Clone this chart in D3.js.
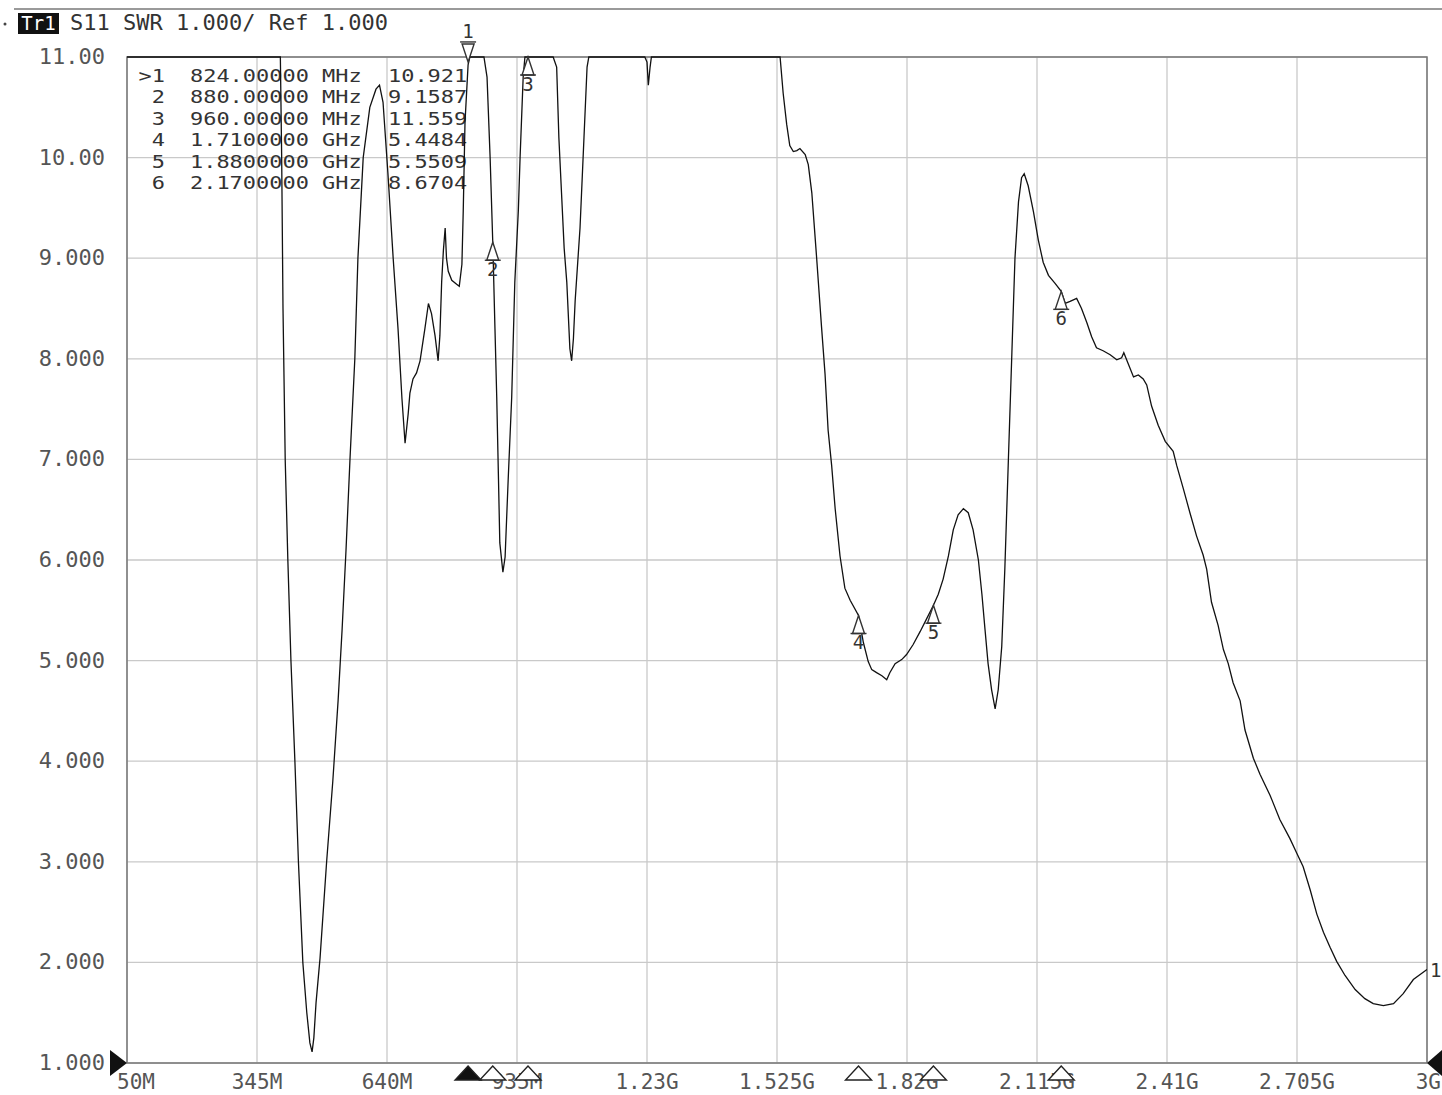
<!DOCTYPE html>
<html>
<head>
<meta charset="utf-8">
<script src="https://cdn.jsdelivr.net/npm/d3@7"></script>
<style>
    body { margin: 0; background: #fff; }
    svg text { font-family: "DejaVu Sans Mono", monospace; }
</style>
</head>
<body>
<div id="root"></div>
<script>
// trace S11 SWR, frequency in MHz
const freqMHz = [50, 375, 398, 401, 404, 409, 415, 422, 431, 439, 449, 458, 465, 470, 474, 479, 488, 503, 517, 529,
    538, 547, 556, 567, 574, 586, 601, 615, 623, 631, 642, 654, 665, 674, 681, 688, 692, 699, 707, 715,
    726, 734, 741, 749, 756, 760, 764, 768, 772, 775, 779, 787, 798, 804, 810, 813, 817, 824, 828, 860,
    867, 874, 880, 885, 889, 893, 896, 903, 908, 915, 923, 930, 938, 942, 949, 953, 960, 987, 1017, 1025,
    1030, 1036, 1042, 1048, 1055, 1059, 1063, 1067, 1078, 1087, 1094, 1098, 1146, 1225, 1230, 1233, 1237, 1240, 1350, 1527,
    1532, 1539, 1547, 1554, 1562, 1570, 1577, 1589, 1596, 1604, 1615, 1626, 1634, 1641, 1649, 1657, 1668, 1679, 1691, 1710,
    1721, 1732, 1740, 1751, 1763, 1774, 1781, 1793, 1808, 1819, 1834, 1850, 1865, 1880, 1891, 1902, 1914, 1925, 1936, 1948,
    1959, 1970, 1982, 1990, 1997, 2004, 2012, 2020, 2027, 2035, 2042, 2050, 2058, 2065, 2073, 2080, 2086, 2095, 2107, 2118,
    2129, 2141, 2156, 2170, 2179, 2190, 2205, 2216, 2228, 2239, 2250, 2265, 2281, 2296, 2307, 2312, 2322, 2334, 2345, 2356,
    2364, 2375, 2390, 2406, 2424, 2432, 2447, 2462, 2477, 2492, 2500, 2511, 2526, 2538, 2549, 2560, 2576, 2587, 2606, 2621,
    2644, 2666, 2689, 2704, 2719, 2735, 2750, 2765, 2780, 2795, 2814, 2837, 2859, 2878, 2901, 2924, 2946, 2969, 3000]
const swr = [12, 12, 11.3, 10, 8.5, 7, 6, 5, 4, 3, 2, 1.5, 1.2, 1.11, 1.25, 1.6, 2.04, 3.0, 3.8, 4.6,
    5.3, 6.1, 7, 8, 9, 10, 10.5, 10.68, 10.72, 10.55, 9.85, 9.0, 8.3, 7.6, 7.16, 7.45, 7.66, 7.8, 7.86, 7.98,
    8.3, 8.55, 8.45, 8.23, 7.98, 8.23, 8.76, 9.08, 9.3, 9.0, 8.87, 8.78, 8.74, 8.72, 8.94, 9.47, 10.35, 10.921, 11.5, 11.5,
    10.8, 10.0, 9.1587, 8.3, 7.62, 6.8, 6.17, 5.88, 6.03, 6.8, 7.62, 8.76, 9.47, 10, 10.8, 11.2, 11.559, 12, 11.5, 10.9,
    10.2, 9.65, 9.1, 8.76, 8.1, 7.98, 8.2, 8.58, 9.3, 10.2, 10.9, 11.5, 12, 11.2, 10.95, 10.72, 10.9, 11.2, 12, 11.2,
    11.0, 10.64, 10.33, 10.12, 10.06, 10.07, 10.09, 10.03, 9.93, 9.65, 9.0, 8.32, 7.85, 7.29, 6.94, 6.51, 6.04, 5.72, 5.6, 5.4484,
    5.18, 4.99, 4.91, 4.88, 4.85, 4.81, 4.88, 4.97, 5.01, 5.06, 5.16, 5.29, 5.42, 5.5509, 5.66, 5.81, 6.04, 6.30, 6.45, 6.51,
    6.47, 6.30, 6.0, 5.66, 5.31, 4.97, 4.71, 4.52, 4.71, 5.14, 5.91, 6.99, 8.06, 9.0, 9.56, 9.80, 9.84, 9.72, 9.46, 9.18,
    8.96, 8.83, 8.75, 8.6704, 8.55, 8.57, 8.60, 8.50, 8.36, 8.22, 8.11, 8.08, 8.04, 7.99, 8.01, 8.06, 7.95, 7.82, 7.84, 7.80,
    7.74, 7.53, 7.34, 7.18, 7.08, 6.94, 6.71, 6.47, 6.24, 6.05, 5.91, 5.58, 5.35, 5.11, 4.97, 4.78, 4.60, 4.31, 4.03, 3.87,
    3.66, 3.42, 3.23, 3.09, 2.95, 2.72, 2.48, 2.30, 2.15, 2.01, 1.87, 1.73, 1.64, 1.59, 1.57, 1.59, 1.69, 1.83, 1.93]

// markers
const markerIds = ['1', '2', '3', '4', '5', '6']
const markerFreq = [824, 880, 960, 1710, 1880, 2170]
const markerVal = [10.921, 9.1587, 11.559, 5.4484, 5.5509, 8.6704]
const markerFreqText = ['824.00000 MHz', '880.00000 MHz', '960.00000 MHz', '1.7100000 GHz', '1.8800000 GHz', '2.1700000 GHz']
const markerValText = ['10.921', '9.1587', '11.559', '5.4484', '5.5509', '8.6704']

const xTicks = [50, 345, 640, 935, 1230, 1525, 1820, 2115, 2410, 2705, 3000]
const xTickLabels = ['50M', '345M', '640M', '935M', '1.23G', '1.525G', '1.82G', '2.115G', '2.41G', '2.705G', '3G']
const yTicks = [11, 10, 9, 8, 7, 6, 5, 4, 3, 2, 1]
const yTickLabels = ['11.00', '10.00', '9.000', '8.000', '7.000', '6.000', '5.000', '4.000', '3.000', '2.000', '1.000']

const W = 1442, H = 1095
const pL = 127, pR = 1427, pT = 57, pB = 1063

const x = d3.scaleLinear().domain([50, 3000]).range([pL, pR])
const y = d3.scaleLinear().domain([1, 11]).range([pB, pT]).clamp(true)

const svg = d3.select("#root").append("svg")
    .attr("width", W)
    .attr("height", H)
    .attr("viewBox", '0 0 ' + W + ' ' + H)

svg.append("rect").attr("width", W).attr("height", H).attr("fill", "#fff")

// header
svg.append("line")
    .attr("x1", 14).attr("x2", W).attr("y1", 9).attr("y2", 9)
    .attr("stroke", "#9a9a9a").attr("stroke-width", 2)
svg.append("circle").attr("cx", 5).attr("cy", 24).attr("r", 1.5).attr("fill", "#444")
svg.append("rect")
    .attr("x", 18).attr("y", 13).attr("width", 41).attr("height", 21)
    .attr("fill", "#111")
svg.append("text")
    .attr("x", 38.5).attr("y", 30)
    .attr("text-anchor", "middle")
    .attr("font-size", 19)
    .attr("fill", "#fff")
    .text("Tr1")
svg.append("text")
    .attr("x", 70).attr("y", 30)
    .attr("font-size", 22)
    .attr("fill", "#333")
    .text("S11 SWR 1.000/ Ref 1.000")

// grid
svg.append("g").selectAll("line.vgrid")
    .data(xTicks)
    .join("line")
    .attr("class", "vgrid")
    .attr("x1", d => x(d)).attr("x2", d => x(d))
    .attr("y1", pT).attr("y2", pB)
    .attr("stroke", "#c9c9c9").attr("stroke-width", 1.3)

svg.append("g").selectAll("line.hgrid")
    .data(yTicks)
    .join("line")
    .attr("class", "hgrid")
    .attr("x1", pL).attr("x2", pR)
    .attr("y1", d => y(d)).attr("y2", d => y(d))
    .attr("stroke", "#c9c9c9").attr("stroke-width", 1.3)

svg.append("rect")
    .attr("x", pL).attr("y", pT)
    .attr("width", pR - pL).attr("height", pB - pT)
    .attr("fill", "none").attr("stroke", "#777").attr("stroke-width", 1.5)

// tick labels
svg.selectAll("text.ylab")
    .data(yTicks)
    .join("text")
    .attr("class", "ylab")
    .attr("x", 105)
    .attr("y", d => y(d) + 7)
    .attr("text-anchor", "end")
    .attr("font-size", 22)
    .attr("fill", "#555")
    .text((d, i) => yTickLabels[i])

svg.selectAll("text.xlab")
    .data(xTicks)
    .join("text")
    .attr("class", "xlab")
    .attr("x", (d, i) => i === 0 ? 117 : (i === xTicks.length - 1 ? 1441 : x(d)))
    .attr("y", 1089)
    .attr("text-anchor", (d, i) => i === 0 ? "start" : (i === xTicks.length - 1 ? "end" : "middle"))
    .attr("font-size", 21)
    .attr("fill", "#555")
    .text((d, i) => xTickLabels[i])

// marker table: tight rows, so a smaller font stretched sideways
const rowH = 21.4, stretch = 1.22
const table = svg.append("g").attr("transform", `scale(${stretch},1)`)
function column(lines, xpos, anchor) {
    table.selectAll(null)
        .data(lines)
        .join("text")
        .attr("x", xpos / stretch)
        .attr("y", (d, i) => 82 + i * rowH)
        .attr("text-anchor", anchor)
        .attr("font-size", 18).attr("fill", "#333")
        .text(d => d)
}
column(markerIds.map((d, i) => (i === 0 ? '>' : '') + d), 165, "end")
column(markerFreqText, 190, "start")
column(markerValText, 388, "start")

// trace
svg.append("clipPath").attr("id", "plotclip")
    .append("rect").attr("x", pL).attr("y", pT - 1).attr("width", pR - pL).attr("height", pB - pT + 2)

const line = d3.line()
    .x((d, i) => x(freqMHz[i]))
    .y(d => y(d))

svg.append("path")
    .datum(swr)
    .attr("clip-path", "url(#plotclip)")
    .attr("d", line)
    .attr("fill", "none")
    .attr("stroke", "#111")
    .attr("stroke-width", 1.3)

// markers on trace
const mk = svg.append("g")
markerIds.forEach((id, i) => {
    const mx = x(markerFreq[i]), my = y(markerVal[i])
    if (i === 0) {
        mk.append("path")
            .attr("d", `M${mx - 6},${my - 21} L${mx + 6},${my - 21} L${mx},${my - 3} Z`)
            .attr("fill", "#fff").attr("stroke", "#333").attr("stroke-width", 1.4)
        mk.append("line")
            .attr("x1", mx - 8).attr("x2", mx + 8).attr("y1", my - 23).attr("y2", my - 23)
            .attr("stroke", "#333").attr("stroke-width", 1.4)
        mk.append("text")
            .attr("x", mx).attr("y", my - 27)
            .attr("text-anchor", "middle").attr("font-size", 19).attr("fill", "#333")
            .text(id)
    } else {
        mk.append("path")
            .attr("d", `M${mx},${my} L${mx - 6},${my + 18} L${mx + 6},${my + 18} Z`)
            .attr("fill", "#fff").attr("stroke", "#333").attr("stroke-width", 1.4)
        mk.append("line")
            .attr("x1", mx - 8).attr("x2", mx + 8).attr("y1", my + 18).attr("y2", my + 18)
            .attr("stroke", "#333").attr("stroke-width", 1.4)
        mk.append("text")
            .attr("x", mx).attr("y", my + 34)
            .attr("text-anchor", "middle").attr("font-size", 19).attr("fill", "#333")
            .text(id)
    }
})

// markers on the frequency axis
svg.append("g").selectAll("path.axmark")
    .data(markerFreq)
    .join("path")
    .attr("class", "axmark")
    .attr("d", d => `M${x(d)},${pB + 3} L${x(d) - 13},${pB + 17} L${x(d) + 13},${pB + 17} Z`)
    .attr("fill", (d, i) => i === 0 ? "#111" : "#fff")
    .attr("stroke", "#222").attr("stroke-width", 1.4)

// reference level arrows and trace end label
svg.append("path")
    .attr("d", `M${pL - 17},${pB - 13} L${pL},${pB} L${pL - 17},${pB + 13} Z`)
    .attr("fill", "#111")
svg.append("path")
    .attr("d", `M${W},${pB - 13} L${pR},${pB} L${W},${pB + 13} Z`)
    .attr("fill", "#111")
svg.append("text")
    .attr("x", pR + 3).attr("y", y(swr[swr.length - 1]) + 8)
    .attr("font-family", "DejaVu Serif")
    .attr("font-size", 19).attr("fill", "#333")
    .text("1")
</script>
</body>
</html>
